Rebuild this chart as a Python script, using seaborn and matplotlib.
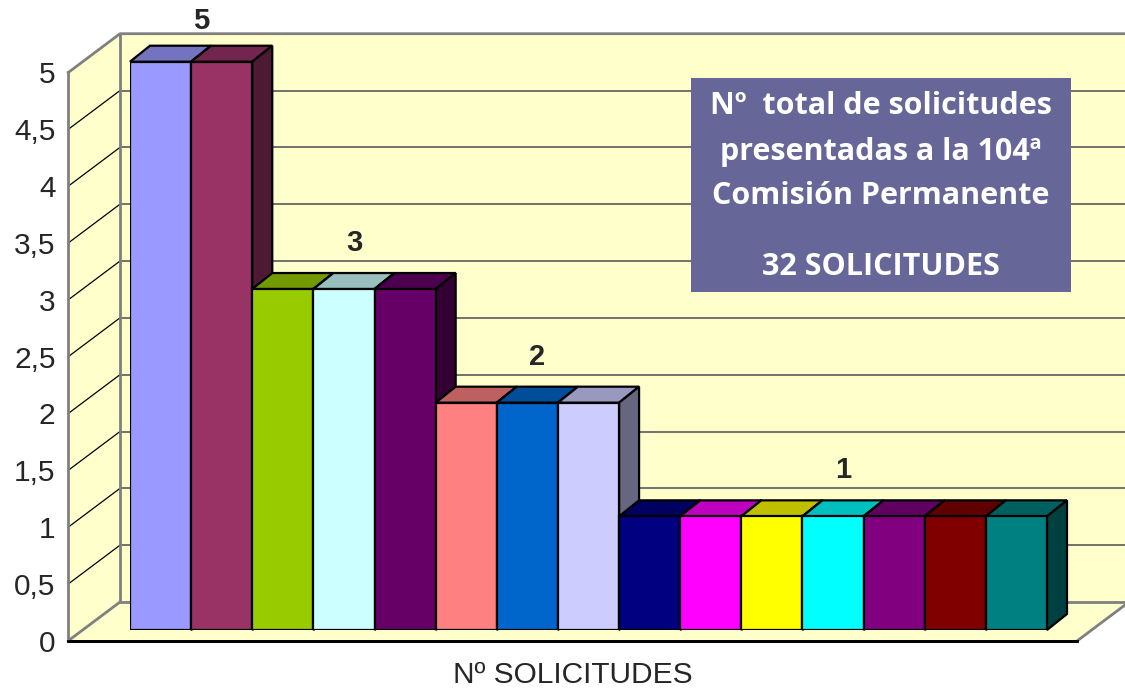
import numpy as np
import pandas as pd
import seaborn as sns
import matplotlib
matplotlib.use("Agg")
import matplotlib.pyplot as plt
from matplotlib.patches import Polygon, Rectangle
from matplotlib.colors import to_rgb

# datos
solicitantes = ["S%02d" % i for i in range(1, 16)]
valores = [5, 5, 3, 3, 3, 2, 2, 2, 1, 1, 1, 1, 1, 1, 1]
colores = ["#9999FF", "#993366", "#99CC00", "#CCFFFF", "#660066",
           "#FF8080", "#0066CC", "#CCCCFF", "#000080", "#FF00FF",
           "#FFFF00", "#00FFFF", "#800080", "#800000", "#008080"]
y_ticks = [0, 0.5, 1, 1.5, 2, 2.5, 3, 3.5, 4, 4.5, 5]
y_tick_labels = ["0", "0,5", "1", "1,5", "2", "2,5", "3", "3,5", "4", "4,5", "5"]
eje_x = "Nº SOLICITUDES"
cuadro = ["Nº  total de solicitudes", "presentadas a la 104ª",
          "Comisión Permanente", "32 SOLICITUDES"]

df = pd.DataFrame({"solicitante": solicitantes, "valor": valores})

sns.set_style("white")
plt.rcParams["font.family"] = ["Liberation Sans", "DejaVu Sans"]

W, H = 1125, 691
fig = plt.figure(figsize=(W / 100, H / 100), dpi=100)

# plano frontal (ejes con marcas) y plano de las barras
ax2 = fig.add_axes([68 / W, (H - 641) / H, 1009 / W, 569 / H])
ax = fig.add_axes([130 / W, (H - 630) / H, 917 / W, 568.3 / H])

sns.barplot(data=df, x="solicitante", y="valor", hue="solicitante",
            palette=colores, legend=False, width=1, saturation=1,
            edgecolor="black", linewidth=1.6, ax=ax)
ax.set_xlim(-0.5, 14.5)
ax.set_ylim(0, 5)
ax.set_axis_off()
barras = sorted(ax.patches, key=lambda p: p.get_x())

sx = 917 / 15
sy = 568.3 / 5
xl = -0.5 - 62 / sx
xr = 14.5 + 30 / sx
fy = -11 / sy
Dx, Dy = 52 / sx, 39 / sy
bdx, bdy = 20 / sx, 16 / sy

pared = "#FFFFCC"
gris = "#808080"
# suelo, pared lateral y pared del fondo
ax.add_patch(Polygon([(xl, fy), (xr, fy), (xr + Dx, fy + Dy), (xl + Dx, fy + Dy)],
                     facecolor=pared, edgecolor="none", clip_on=False, zorder=0))
ax.add_patch(Polygon([(xl, fy), (xl, fy + 5), (xl + Dx, fy + Dy + 5), (xl + Dx, fy + Dy)],
                     facecolor=pared, edgecolor="none", clip_on=False, zorder=0))
ax.add_patch(Polygon([(xl + Dx, fy + Dy), (xl + Dx, fy + Dy + 5), (xr + Dx, fy + Dy + 5), (xr + Dx, fy + Dy)],
                     facecolor=pared, edgecolor="none", clip_on=False, zorder=0))
for v in y_ticks[1:-1]:
    ax.plot([xl + Dx, xr + Dx], [fy + Dy + v, fy + Dy + v], color="#5a5a5a", lw=1.2, clip_on=False, zorder=1)
    ax.plot([xl, xl + Dx], [fy + v, fy + Dy + v], color="black", lw=0.9, clip_on=False, zorder=1)
# bordes
ax.plot([xl, xl + Dx, xr + Dx], [fy + 5, fy + Dy + 5, fy + Dy + 5], color=gris, lw=2, clip_on=False, zorder=1)
ax.plot([xl + Dx, xl + Dx, xr + Dx], [fy + Dy + 5, fy + Dy, fy + Dy], color=gris, lw=2, clip_on=False, zorder=1)
ax.plot([xl, xl + Dx], [fy, fy + Dy], color=gris, lw=2, clip_on=False, zorder=1)
ax.plot([xr, xr + Dx], [fy, fy + Dy], color=gris, lw=2, clip_on=False, zorder=1)
ax.plot([xl, xr], [fy, fy], color="black", lw=2, clip_on=False, zorder=1)

# caras superior y lateral de cada barra
for i, p in enumerate(barras):
    x0, w, h = p.get_x(), p.get_width(), p.get_height()
    c = np.array(to_rgb(p.get_facecolor()))
    z = 3 + 2 * i
    p.set_zorder(z + 1)
    ax.add_patch(Polygon([(x0, h), (x0 + w, h), (x0 + w + bdx, h + bdy), (x0 + bdx, h + bdy)],
                         facecolor=c * 0.75, edgecolor="black", lw=1.6, clip_on=False, zorder=z))
    ax.add_patch(Polygon([(x0 + w, 0), (x0 + w, h), (x0 + w + bdx, h + bdy), (x0 + w + bdx, bdy)],
                         facecolor=c * 0.5, edgecolor="black", lw=1.6, clip_on=False, zorder=z))

# etiquetas por grupo
vals = np.array(valores)
for v in sorted(set(valores), reverse=True):
    xc = np.where(vals == v)[0].mean()
    yt = min(v + bdy + 16 / sy, max(valores) + bdy + 11 / sy)
    ax.text(xc + bdx / 2, yt, str(v), ha="center", va="bottom",
            fontsize=21, fontweight="bold", clip_on=False, zorder=50)

# ejes frontales
ax2.set_zorder(2)
ax2.patch.set_alpha(0)
ax2.set_xlim(0, 1)
ax2.set_ylim(0, 5)
ax2.set_yticks(y_ticks)
ax2.set_yticklabels(y_tick_labels)
ax2.set_xticks([0, 1])
ax2.set_xticklabels(["", ""])
ax2.tick_params(axis="y", direction="out", length=6, width=1.5, color=gris, labelsize=21.5, pad=3)
ax2.tick_params(axis="x", direction="out", length=6, width=1.5, color="black")
for s in ["top", "right"]:
    ax2.spines[s].set_visible(False)
ax2.spines["left"].set_color(gris)
ax2.spines["left"].set_linewidth(2)
ax2.spines["bottom"].set_color("black")
ax2.spines["bottom"].set_linewidth(2)
ax2.set_xlabel(eje_x, fontsize=21.5, labelpad=5)

# cuadro de texto
fig.add_artist(Rectangle((691 / W, (H - 292) / H), 380 / W, 214 / H, transform=fig.transFigure,
                         facecolor="#666699", edgecolor="none", zorder=10))
for texto, yb in zip(cuadro, [114, 160, 204, 275]):
    fig.text(881 / W, (H - yb) / H, texto, ha="center", va="baseline", color="white",
             fontsize=22, fontweight="bold", family=["Open Sans", "DejaVu Sans"], zorder=11)

fig.savefig("out.png", dpi=100)
